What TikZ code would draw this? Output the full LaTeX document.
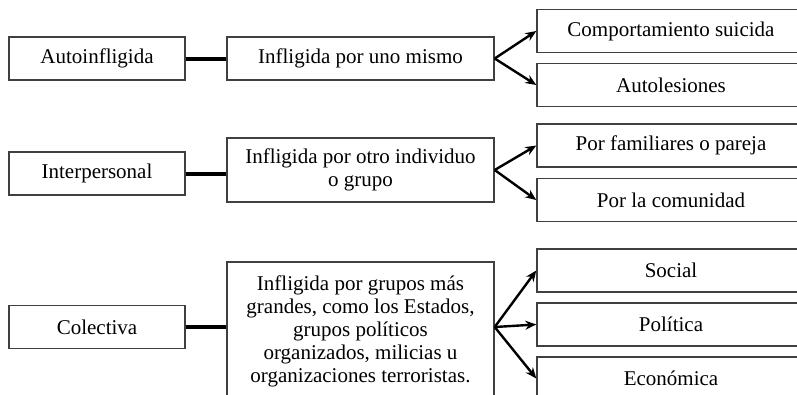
\documentclass[tikz,border=0pt]{standalone}
\usepackage{fontspec}
\setmainfont{Liberation Serif}
\usetikzlibrary{arrows.meta}
\tikzstyle{tipo} = [rectangle, draw=black!75, line width=1.4pt, fill=white, minimum width=176pt, minimum height=43pt, text centered, align=center, font=\fontsize{21}{23}\selectfont]
\tikzstyle{forma} = [tipo, minimum width=267pt]
\tikzstyle{clase} = [tipo, minimum width=268pt]
\tikzstyle{enlace} = [line width=4pt]
\tikzstyle{arrow} = [line width=2.4pt,->,>={Stealth[length=11pt,width=9pt]}]

\begin{document}
\begin{tikzpicture}[x=1pt,y=-1pt]
\useasboundingbox (0,0) rectangle (797,394);
\clip (0,0) rectangle (797,394);
% autoinfligida
\node[tipo] (auto) at (97,58.5) {Autoinfligida};
\node[forma] (mismo) at (360.5,58.5) {Infligida por uno mismo};
\node[clase] (suicida) at (671,31) {Comportamiento suicida};
\node[clase] (lesiones) at (671,85) {Autolesiones};
\draw[enlace] (auto) -- (mismo);
\draw[arrow] (mismo.east) -- (suicida.west);
\draw[arrow] (mismo.east) -- (lesiones.west);
% interpersonal
\node[tipo] (inter) at (97,173.5) {Interpersonal};
\node[forma,minimum height=64pt] (otro) at (360.5,170) {Infligida por otro individuo\\o grupo};
\node[clase] (familia) at (671,145.5) {Por familiares o pareja};
\node[clase] (comunidad) at (671,200) {Por la comunidad};
\draw[enlace] (inter) -- (inter -| otro.west);
\draw[arrow] (otro.east) -- (familia.west);
\draw[arrow] (otro.east) -- (comunidad.west);
% colectiva
\node[tipo] (colectiva) at (97,327) {Colectiva};
\node[forma,minimum height=138pt] (grupos) at (360.5,331) {Infligida por grupos m\'as\\grandes, como los Estados,\\grupos pol\'iticos\\organizados, milicias u\\organizaciones terroristas.};
\node[clase] (social) at (671,270.5) {Social};
\node[clase] (politica) at (671,324.5) {Pol\'itica};
\node[clase] (economica) at (671,378.5) {Econ\'omica};
\coordinate (salida) at (grupos.east |- colectiva.east);
\draw[enlace] (colectiva) -- (colectiva -| grupos.west);
\draw[arrow] (salida) -- (social.west);
\draw[arrow] (salida) -- (politica.west);
\draw[arrow] (salida) -- (economica.west);
\end{tikzpicture}
\end{document}
